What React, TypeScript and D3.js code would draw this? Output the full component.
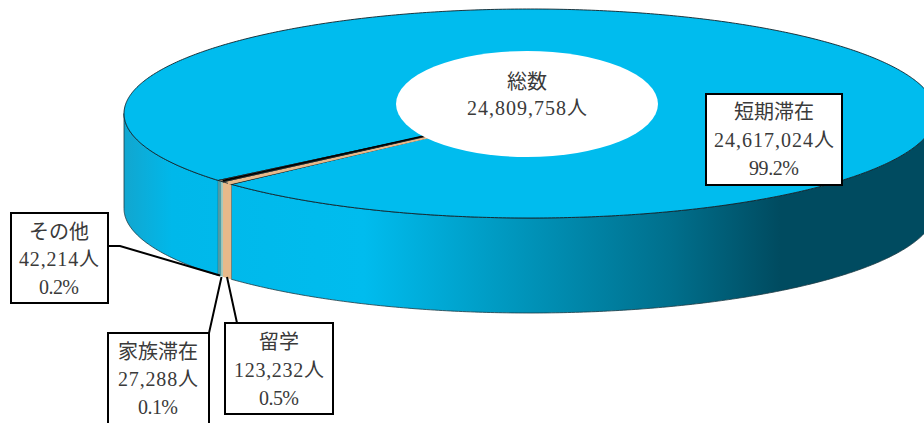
import React from "react";
import * as d3 from "d3";

const categories = ["短期滞在", "留学", "家族滞在", "その他"];
const values = [24617024, 123232, 27288, 42214];
const totalLabel = "総数";
const unit = "人";
const sliceColors = ["#00bcee", "#e8b98a", "#9cc4b8", "#4e9ea8"];

// layout (separate from the data)
const W = 924, H = 423;
const cx = 530, cy = 113.5, rx = 406, ry = 104.5, depth = 95;
const hole = { cx: 527, cy: 104, rx: 131, ry: 53 };
const boxes = [
  { x: 706, y: 94, w: 136, h: 91, cx: 774, lines: [112, 140, 168] },
  { x: 225, y: 323, w: 108, h: 91, cx: 279, lines: [342, 370, 398] },
  { x: 108, y: 333, w: 101, h: 100, cx: 158, lines: [352, 379, 407] },
  { x: 11, y: 213, w: 97, h: 90, cx: 59, lines: [232, 259, 287] },
];
const leaders = [
  null,
  [[248, 323], [237, 323], [227, 277]],
  [[209, 345], [209, 333], [221.5, 277]],
  [[108, 246], [120, 246], [220, 275.5]],
];

const START = 4.017;
const TAU = Math.PI * 2;
const px = (a: number) => cx + rx * Math.sin(a);
const py = (a: number, z = 0) => cy - ry * Math.cos(a) + z;

const pie = d3.pie<number>().sort(null).startAngle(START).endAngle(START + TAU);
const arcs = pie(values);
const total = d3.sum(values);
const fmtN = d3.format(",");
const fmtP = d3.format(".1%");

const lineGen = d3.line<[number, number]>().curve(d3.curveLinear);

function samples(a0: number, a1: number) {
  const n = Math.max(2, Math.ceil((a1 - a0) / 0.01));
  return d3.range(n + 1).map((i) => a0 + ((a1 - a0) * i) / n);
}
function topPath(a0: number, a1: number) {
  const rim = samples(a0, a1).map((a) => [px(a), py(a)] as [number, number]);
  return lineGen([[cx, cy], ...rim]) + "Z";
}
function sidePath(a0: number, a1: number) {
  const s = samples(a0, a1);
  const up = s.map((a) => [px(a), py(a)] as [number, number]);
  const down = s.slice().reverse().map((a) => [px(a), py(a, depth)] as [number, number]);
  return lineGen([...up, ...down]) + "Z";
}
function spoke(a: number) {
  return lineGen([[cx, cy], [px(a), py(a)]]) as string;
}
// visible (front) ranges of a slice: the front is where cos(a) < 0
function frontRanges(a0: number, a1: number) {
  const out: [number, number][] = [];
  for (let k = 0; k < 3; k++) {
    const lo = Math.PI / 2 + k * TAU;
    const hi = (3 * Math.PI) / 2 + k * TAU;
    const s = Math.max(a0, lo), e = Math.min(a1, hi);
    if (e > s) out.push([s, e]);
  }
  return out;
}

function Label({ x, y, text }: { x: number; y: number; text: string }) {
  const units = Array.from(text).reduce((acc, c) => acc + (c.charCodeAt(0) > 255 ? 2 : 1), 0);
  return (
    <text x={x} y={y} textAnchor="middle" dominantBaseline="central" fontSize={20} fill="#3a3a3a"
      fontFamily="'Liberation Serif','Noto Sans CJK JP',serif" textLength={units * 10} lengthAdjust="spacing">
      {text}
    </text>
  );
}

export default function App() {
  return (
    <svg width={W} height={H} viewBox={`0 0 ${W} ${H}`} style={{ position: "absolute", left: 0, top: 0, background: "#fff" }}>
      <defs>
        <linearGradient id="side" gradientUnits="userSpaceOnUse" x1={124} x2={924} y1={0} y2={0}>
          <stop offset="0" stopColor="#12a6cf" />
          <stop offset="0.06" stopColor="#00b8ea" />
          <stop offset="0.3" stopColor="#00bcee" />
          <stop offset="0.46" stopColor="#009cc4" />
          <stop offset="0.685" stopColor="#006f8c" />
          <stop offset="0.82" stopColor="#004b60" />
          <stop offset="1" stopColor="#004b60" />
        </linearGradient>
      </defs>
      {arcs.map((d, i) =>
        frontRanges(d.startAngle, d.endAngle).map(([s, e], j) => (
          <path key={`s${i}-${j}`} d={sidePath(s, e)}
            fill={i === 0 ? "url(#side)" : sliceColors[i]}
            stroke={i === 0 ? "#1c3a44" : "none"} strokeWidth={i === 0 ? 0.8 : 0} />
        ))
      )}
      {arcs.map((d, i) => (
        <path key={`t${i}`} d={topPath(d.startAngle, d.endAngle)}
          fill={sliceColors[i === 0 ? 0 : 1]} stroke="#10222a" strokeWidth={0.9} />
      ))}
      <path d={spoke(arcs[2].startAngle)} stroke="#000" strokeWidth={1.6} transform="translate(0,-1.2)" fill="none" />
      <path d={spoke(arcs[1].startAngle + 0.012)} stroke={sliceColors[1]} strokeWidth={2} transform="translate(0,0.4)" fill="none" />
      <ellipse cx={hole.cx} cy={hole.cy} rx={hole.rx} ry={hole.ry} fill="#fff" />
      <Label x={hole.cx} y={82} text={totalLabel} />
      <Label x={hole.cx} y={108} text={fmtN(total) + unit} />
      {leaders.map((l, i) =>
        l ? <path key={`l${i}`} d={lineGen(l as [number, number][]) as string} fill="none" stroke="#000" strokeWidth={2} /> : null
      )}
      {categories.map((c, i) => {
        const b = boxes[i];
        return (
          <g key={c}>
            <rect x={b.x} y={b.y} width={b.w} height={b.h} fill="#fff" stroke="#000" strokeWidth={2} />
            <Label x={b.cx} y={b.lines[0]} text={c} />
            <Label x={b.cx} y={b.lines[1]} text={fmtN(values[i]) + unit} />
            <Label x={b.cx} y={b.lines[2]} text={fmtP(values[i] / total)} />
          </g>
        );
      })}
    </svg>
  );
}
